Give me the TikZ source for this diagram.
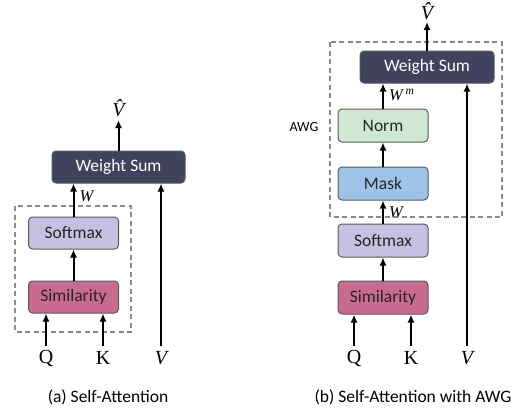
\documentclass[tikz,border=0pt]{standalone}
\usepackage{fontspec}
\setmainfont{Carlito}
\newfontfamily\lblfont{Liberation Serif}
\usetikzlibrary{arrows.meta}
\definecolor{wsfill}{HTML}{41435E}
\definecolor{softfill}{HTML}{C8C0E0}
\definecolor{simfill}{HTML}{C96A8F}
\definecolor{normfill}{HTML}{CFE8D4}
\definecolor{maskfill}{HTML}{9FC3E6}
\definecolor{boxline}{HTML}{5A5A5A}
\definecolor{dashline}{HTML}{8A8A8A}
\tikzset{
  blk/.style={draw=boxline, line width=1pt, rounded corners=4pt, minimum height=32pt, inner sep=0pt,
    font=\fontsize{17.5}{20}\selectfont, text=black!85},
  wsbox/.style={blk, fill=wsfill, text=white, minimum width=133pt},
  smallbox/.style={blk, minimum width=90pt},
  grp/.style={draw=dashline, line width=1.3pt, dash pattern=on 5pt off 3.5pt},
  arr/.style={line width=2pt, -{Latex[length=8pt,width=7pt]}},
  lbl/.style={font=\lblfont\fontsize{20}{22}\selectfont, inner sep=1pt},
  mlbl/.style={font=\lblfont\itshape\fontsize{16.5}{18}\selectfont, inner sep=1pt},
  captext/.style={font=\fontsize{17.5}{20}\selectfont, inner sep=0pt}
}
\begin{document}
\begin{tikzpicture}[x=1pt,y=-1pt]
\useasboundingbox (0,0) rectangle (521,407);
% ---------- (a) ----------
\draw[grp] (15,206) rectangle (131,332);
\node[wsbox] (ws1) at (118.5,167) {Weight Sum};
\node[smallbox, fill=softfill] (soft1) at (73.5,233) {Softmax};
\node[smallbox, fill=simfill] (sim1) at (73.5,297) {Similarity};
\node[lbl] (q1) at (46,358) {Q};
\node[lbl] (k1) at (103,358) {K};
\node[lbl] (v1) at (161,358) {\itshape V};
\node[lbl] (vh1) at (118.5,108) {\itshape \^{V}};
\coordinate (qs1) at (46,346);
\coordinate (ks1) at (103,346);
\coordinate (vs1) at (161,346);
\coordinate (vt1) at (118.5,120);
\draw[arr] (qs1) -- (qs1 |- sim1.south);
\draw[arr] (ks1) -- (ks1 |- sim1.south);
\draw[arr] (sim1.north) -- (soft1.south);
\draw[arr] (soft1.north) -- (soft1.north |- ws1.south) node[mlbl, pos=0.6, anchor=west, xshift=4pt] (w1) {W};
\draw[arr] (vs1) -- (vs1 |- ws1.south);
\draw[arr] (ws1.north) -- (vt1);
\node[captext] (c1) at (108,397) {(a) Self-Attention};
% ---------- (b) ----------
\draw[grp] (330,42) rectangle (502,217);
\node[font=\fontsize{14}{16}\selectfont, inner sep=1pt] (awg) at (304,127) {AWG};
\node[wsbox, minimum width=134pt] (ws2) at (427,67) {Weight Sum};
\node[smallbox, fill=normfill, minimum height=33pt] (norm) at (383,125.5) {Norm};
\node[smallbox, fill=maskfill, minimum height=33pt] (mask) at (383,183.5) {Mask};
\node[smallbox, fill=softfill, minimum height=33pt] (soft2) at (383,240.5) {Softmax};
\node[smallbox, fill=simfill, minimum height=33pt] (sim2) at (383,297.5) {Similarity};
\node[lbl] (q2) at (354,358) {Q};
\node[lbl] (k2) at (411,358) {K};
\node[lbl] (v2) at (467,358) {\itshape V};
\node[lbl] (vh2) at (427,11) {\itshape \^{V}};
\coordinate (qs2) at (354,346);
\coordinate (ks2) at (411,346);
\coordinate (vs2) at (467,346);
\coordinate (vt2) at (427,22);
\draw[arr] (qs2) -- (qs2 |- sim2.south);
\draw[arr] (ks2) -- (ks2 |- sim2.south);
\draw[arr] (sim2.north) -- (soft2.south);
\draw[arr] (soft2.north) -- (mask.south) node[mlbl, pos=0.5, anchor=west, xshift=4pt] (w2) {W};
\draw[arr] (mask.north) -- (norm.south);
\draw[arr] (norm.north) -- (norm.north |- ws2.south) node[mlbl, pos=0.55, anchor=west, xshift=4pt] (wm) {W\,\textsuperscript{\itshape m}};
\draw[arr] (vs2) -- (vs2 |- ws2.south);
\draw[arr] (ws2.north) -- (vt2);
\node[captext] (c2) at (413,397) {(b) Self-Attention with AWG};
\end{tikzpicture}
\end{document}
